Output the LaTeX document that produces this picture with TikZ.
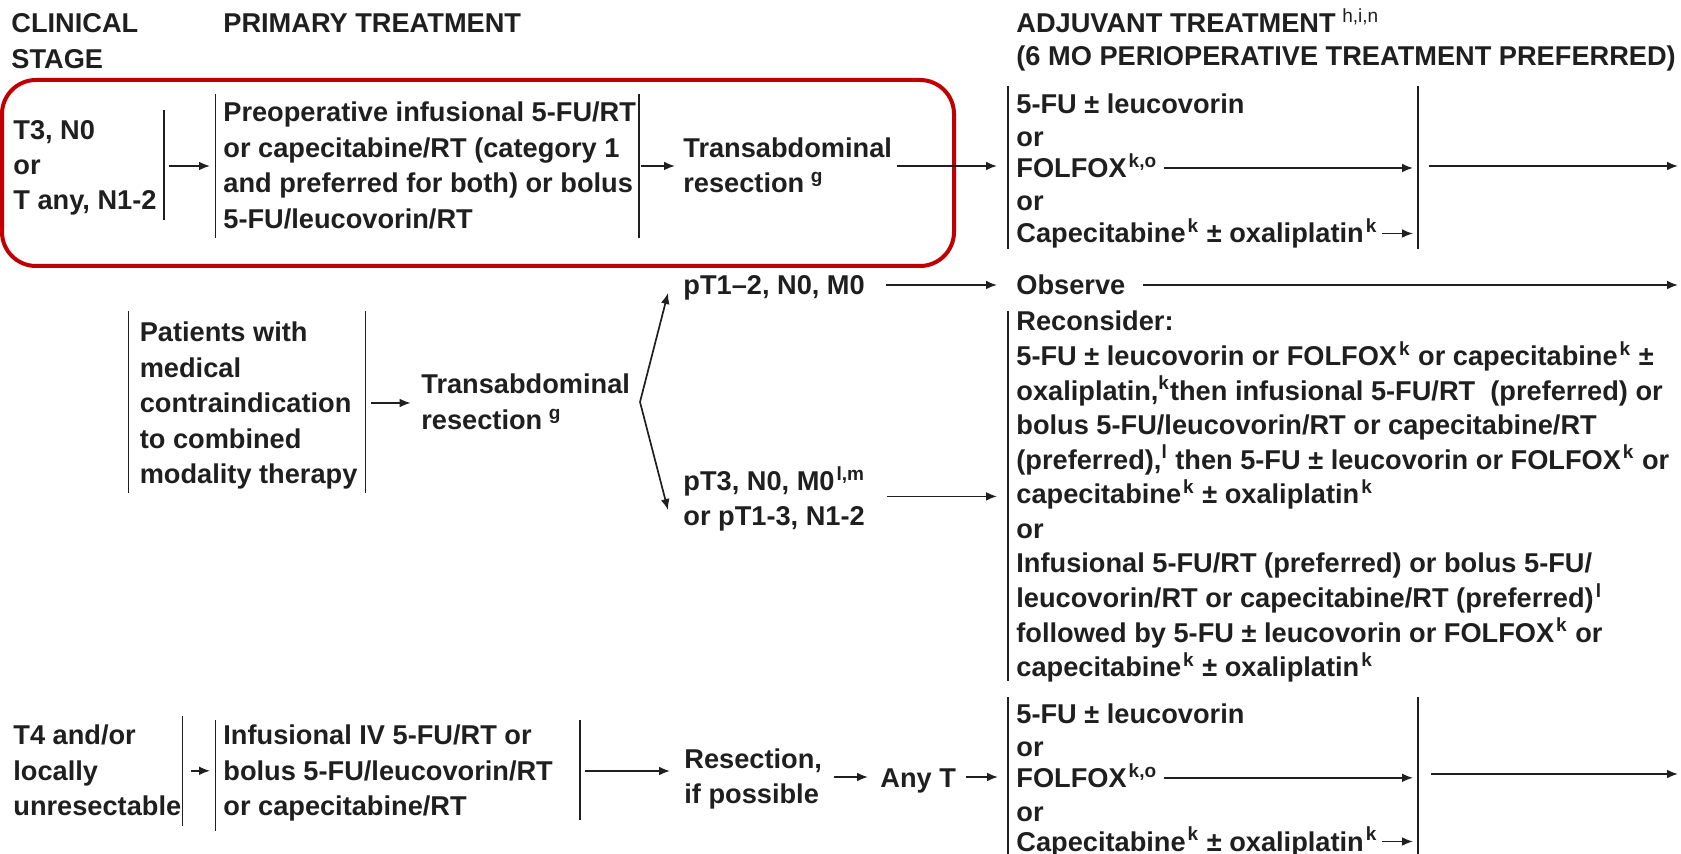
\documentclass[tikz,border=0pt]{standalone}
\usepackage{fontspec}
\setmainfont{Liberation Sans}
\usetikzlibrary{arrows.meta,calc}
\colorlet{ink}{black!88}
\definecolor{boxred}{RGB}{192,0,0}
\newcommand{\ml}[2][17.7]{{\fontsize{13.6}{#1}\selectfont\begin{tabular}[t]{@{}l@{}}#2\end{tabular}}}
\newcommand{\sps}[1]{\kern1pt\textsuperscript{#1}}
\begin{document}
\begin{tikzpicture}[x=0.5pt,y=-0.5pt,
  txt/.style={anchor=base west,inner sep=0pt,font=\bfseries\fontsize{13.6}{17.7}\selectfont,text=ink},
  arr/.style={draw=ink,line width=0.85pt,-{Latex[length=5.5pt,width=4.4pt]}},
  bar/.style={draw=ink,line width=0.75pt},
  redbox/.style={draw=boxred,line width=2pt,rounded corners=17pt}]
\useasboundingbox (0,0) rectangle (1681,854);

% headers
\node[txt] (hcs) at (11,33) {\ml{CLINICAL\\STAGE}};
\node[txt] (hpt) at (223,33) {PRIMARY TREATMENT};
\node[txt] (hat) at (1016,33) {\ml[16.5]{ADJUVANT TREATMENT\,\sps{\mdseries h,i,n}\\(6 MO PERIOPERATIVE TREATMENT PREFERRED)}};

% red highlight
\draw[redbox] (2,80) rectangle (954,266);

% bar coordinates
\coordinate (vL) at (1008,0);
\coordinate (vR) at (1418,0);

% ---------- row 1
\node[txt] (s1) at (13,140) {\ml[17.5]{T3, N0\\or\\T any, N1-2}};
\draw[bar] (164,110) -- (164,220);
\draw[bar] (215.5,94) -- (215.5,238);
\node[txt] (p1) at (223,122) {\ml{Preoperative infusional 5-FU/RT\\or capecitabine/RT (category 1\\and preferred for both) or bolus\\5-FU/leucovorin/RT}};
\draw[bar] (639,94) -- (639,238);
\node[txt] (r1) at (683,157.5) {\ml{Transabdominal\\resection\,\sps{g}}};
\draw[bar] (1008,86) -- (1008,249);
\node[txt] (a11) at (1016,113.5) {5-FU ± leucovorin};
\node[txt] (a12) at (1016,146.5) {or};
\node[txt] (a13) at (1016,178) {FOLFOX\sps{k,o}};
\node[txt] (a14) at (1016,211) {or};
\node[txt] (a15) at (1016,243) {Capecitabine\sps{k} ± oxaliplatin\sps{k}};
\draw[bar] (1418,86) -- (1418,249);

\coordinate (s1o) at (169,166);
\coordinate (p1i) at (210,166);
\coordinate (p1o) at (641,166);
\coordinate (r1i) at (675,166);
\coordinate (r1o) at (897,166);
\coordinate (a1i) at (997,166);
\coordinate (a1o) at (1429,166);
\coordinate (e1) at (1678,166);
\draw[arr] (s1o) -- (p1i);
\draw[arr] (p1o) -- (r1i);
\draw[arr] (r1o) -- (a1i);
\draw[arr] ($(a13.base east)+(6,-10)$) -- ($(a13.base east -| vR)+(-5,-10)$);
\draw[arr] ($(a15.base east)+(4,-9.5)$) -- ($(a15.base east -| vR)+(-5,-9.5)$);
\draw[arr] (a1o) -- (e1);

% ---------- row 2
\draw[bar] (128.7,311) -- (128.7,493);
\node[txt] (s2) at (139.4,342) {\ml{Patients with\\medical\\contraindication\\to combined\\modality therapy}};
\draw[bar] (365.6,311) -- (365.6,493);
\node[txt] (r2) at (421,393.3) {\ml[18.2]{Transabdominal\\resection\,\sps{g}}};
\coordinate (s2o) at (371,403);
\coordinate (r2i) at (410.6,403);
\draw[arr] (s2o) -- (r2i);

\coordinate (fork) at (640,402);
\coordinate (upt) at (668,293);
\coordinate (dnt) at (668,510);
\draw[arr] (fork) -- (upt);
\draw[arr] (fork) -- (dnt);

\node[txt] (pa) at (683,294.7) {pT1–2, N0, M0};
\node[txt] (pb) at (683,491) {\ml[17.2]{pT3, N0, M0\sps{l,m}\\or pT1-3, N1-2}};
\node[txt] (obs) at (1016,294.7) {Observe};
\coordinate (pao) at (886,285);
\coordinate (obsi) at (997,285);
\coordinate (obso) at (1143,285);
\coordinate (e2) at (1678,285);
\draw[arr] (pao) -- (obsi);
\draw[arr] (obso) -- (e2);

\draw[bar] (1008,311) -- (1008,681);
\node[txt] (rec) at (1016,331) {\ml[17.25]{Reconsider:\\
5-FU ± leucovorin or FOLFOX\sps{k} or capecitabine\sps{k} ±\\
oxaliplatin,\textsuperscript{k}then infusional 5-FU/RT \ (preferred) or\\
bolus 5-FU/leucovorin/RT or capecitabine/RT\\
(preferred),\textsuperscript{l} then 5-FU ± leucovorin or FOLFOX\sps{k} or\\
capecitabine\sps{k} ± oxaliplatin\sps{k}\\
or\\
Infusional 5-FU/RT (preferred) or bolus 5-FU/\\
leucovorin/RT or capecitabine/RT (preferred)\sps{l}\\
followed by 5-FU ± leucovorin or FOLFOX\sps{k} or\\
capecitabine\sps{k} ± oxaliplatin\sps{k}}};
\coordinate (pbo) at (887,496.4);
\coordinate (reci) at (997,496.4);
\draw[arr] (pbo) -- (reci);

% ---------- row 3
\node[txt] (s3) at (13,745) {\ml{T4 and/or\\locally\\unresectable}};
\draw[bar] (182.3,716) -- (182.3,825.5);
\draw[bar] (215.5,720.5) -- (215.5,831);
\node[txt] (p3) at (223,745) {\ml{Infusional IV 5-FU/RT or\\bolus 5-FU/leucovorin/RT\\or capecitabine/RT}};
\draw[bar] (580,720.5) -- (580,820);
\node[txt] (r3) at (684,768.5) {\ml{Resection,\\if possible}};
\node[txt] (anyt) at (880,787) {Any T};
\draw[bar] (1008,697) -- (1008,854);
\node[txt] (a31) at (1016,723.5) {5-FU ± leucovorin};
\node[txt] (a32) at (1016,756.8) {or};
\node[txt] (a33) at (1016,787.8) {FOLFOX\sps{k,o}};
\node[txt] (a34) at (1016,821) {or};
\node[txt] (a35) at (1016,851) {Capecitabine\sps{k} ± oxaliplatin\sps{k}};
\draw[bar] (1418,697) -- (1418,854);

\coordinate (s3o) at (190.8,770.8);
\coordinate (p3i) at (210,770.8);
\coordinate (p3o) at (585,771);
\coordinate (r3i) at (670,771);
\coordinate (r3o) at (834,777);
\coordinate (anyi) at (868,777);
\coordinate (anyo) at (966,777);
\coordinate (a3i) at (998,777);
\coordinate (a3o) at (1431,774);
\coordinate (e3) at (1678,774);
\draw[arr] (s3o) -- (p3i);
\draw[arr] (p3o) -- (r3i);
\draw[arr] (r3o) -- (anyi);
\draw[arr] (anyo) -- (a3i);
\draw[arr] ($(a33.base east)+(6,-10)$) -- ($(a33.base east -| vR)+(-5,-10)$);
\draw[arr] ($(a35.base east)+(4,-9.5)$) -- ($(a35.base east -| vR)+(-5,-9.5)$);
\draw[arr] (a3o) -- (e3);
\end{tikzpicture}
\end{document}
